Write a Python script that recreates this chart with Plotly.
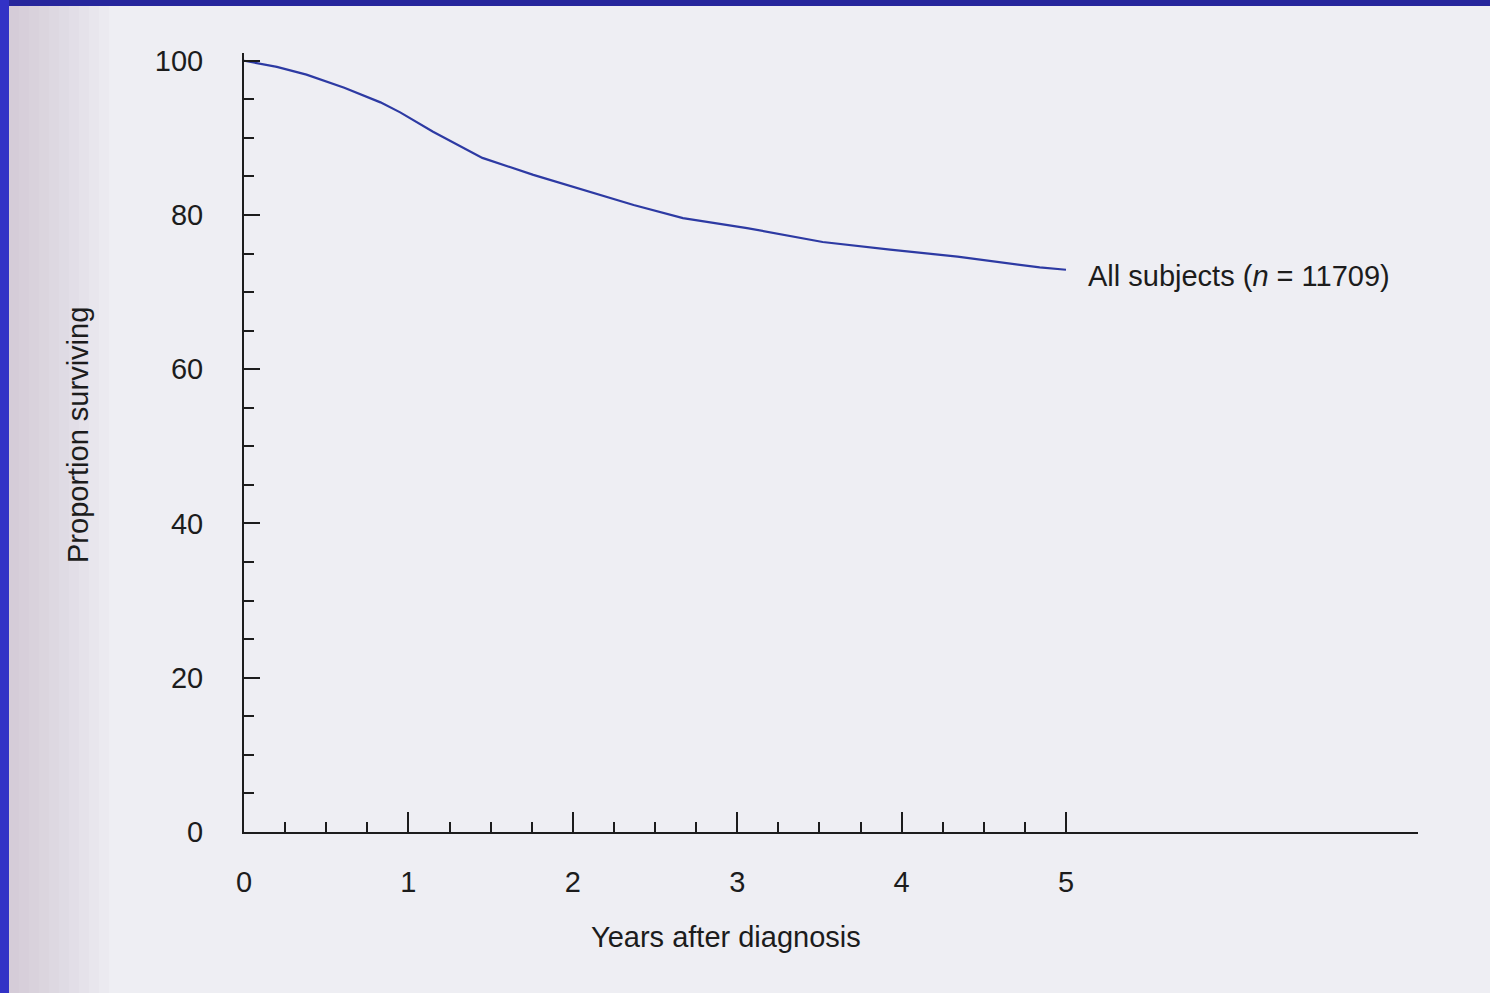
import plotly.graph_objects as go

# Data (years after diagnosis, % surviving)
years = [0.0, 0.2, 0.38, 0.61, 0.83, 0.95, 1.15, 1.45, 1.76, 2.06, 2.37, 2.67,
         3.06, 3.52, 3.93, 4.34, 4.84, 5.0]
surviving = [100.0, 99.2, 98.2, 96.5, 94.6, 93.3, 90.8, 87.4, 85.2, 83.3, 81.3, 79.6,
             78.3, 76.5, 75.5, 74.6, 73.2, 72.9]
series_label = "All subjects (<i>n</i> = 11709)"
x_title = "Years after diagnosis"
y_title = "Proportion surviving"

x_major = [0, 1, 2, 3, 4, 5]
x_minor = [q / 4 for q in range(1, 20) if q % 4 != 0]
y_major = [0, 20, 40, 60, 80, 100]

W, H = 1490, 993
ML, MR, MT, MB = 244, 72, 53, 161
PW, PH = W - ML - MR, H - MT - MB


def px_x(p):
    return (p - ML) / PW


def px_y(p):
    return 1 - (p - MT) / PH


INK = "#1c1c1c"
FONT = "Liberation Sans, Arial, Helvetica, sans-serif"
FS = 29

fig = go.Figure()
fig.add_trace(go.Scatter(
    x=years, y=surviving, mode="lines",
    line=dict(color="#2d3aa3", width=2.2),
    showlegend=False, hoverinfo="x+y",
))

fig.add_annotation(
    x=years[-1], y=surviving[-1], xref="x", yref="y",
    text=series_label, showarrow=False, xanchor="left", yanchor="middle",
    xshift=20, yshift=-6, font=dict(size=FS, color=INK, family=FONT),
)
fig.add_annotation(
    x=px_x(726), y=px_y(937), xref="paper", yref="paper",
    text=x_title, showarrow=False, xanchor="center", yanchor="middle",
    font=dict(size=FS, color=INK, family=FONT),
)
fig.add_annotation(
    x=px_x(78), y=px_y(435), xref="paper", yref="paper", textangle=-90,
    text=y_title, showarrow=False, xanchor="center", yanchor="middle",
    font=dict(size=FS, color=INK, family=FONT),
)

shapes = []
# soft page shadow on the left side of the scan
for k in range(10):
    shapes.append(dict(
        type="rect", xref="paper", yref="paper", layer="below",
        x0=px_x(9), x1=px_x(9 + 10 * (k + 1)), y0=px_y(H), y1=px_y(0),
        fillcolor="rgba(150,140,148,0.03)", line=dict(width=0),
    ))
# blue slide frame
shapes.append(dict(type="rect", xref="paper", yref="paper", layer="above",
                   x0=px_x(0), x1=px_x(W), y0=px_y(6), y1=px_y(0),
                   fillcolor="#26269c", line=dict(width=0)))
shapes.append(dict(type="rect", xref="paper", yref="paper", layer="above",
                   x0=px_x(0), x1=px_x(9), y0=px_y(H), y1=px_y(0),
                   fillcolor="#3232c6", line=dict(width=0)))

fig.update_layout(
    width=W, height=H,
    margin=dict(l=ML, r=MR, t=MT, b=MB, pad=0),
    paper_bgcolor="#eeeef3", plot_bgcolor="rgba(0,0,0,0)",
    font=dict(family=FONT, size=FS, color=INK),
    shapes=shapes,
    xaxis=dict(
        range=[0, PW / 164.4], showgrid=False, zeroline=False,
        showline=True, linecolor=INK, linewidth=2,
        tickmode="array", tickvals=x_major, ticktext=[str(v) for v in x_major],
        ticks="inside", ticklen=20, tickwidth=2, tickcolor=INK,
        minor=dict(tickmode="array", tickvals=x_minor, ticks="inside",
                   ticklen=10, tickwidth=2, tickcolor=INK, showgrid=False),
        ticklabelstandoff=23, tickfont=dict(size=FS, color=INK),
    ),
    yaxis=dict(
        range=[0, 101], showgrid=False, zeroline=False,
        showline=True, linecolor=INK, linewidth=2,
        tickmode="array", tickvals=y_major, ticktext=[str(v) for v in y_major],
        ticks="inside", ticklen=16, tickwidth=2, tickcolor=INK,
        minor=dict(dtick=5, ticks="inside", ticklen=10, tickwidth=2,
                   tickcolor=INK, showgrid=False),
        ticklabelstandoff=33, tickfont=dict(size=FS, color=INK),
    ),
)

fig.write_html("out.html")
